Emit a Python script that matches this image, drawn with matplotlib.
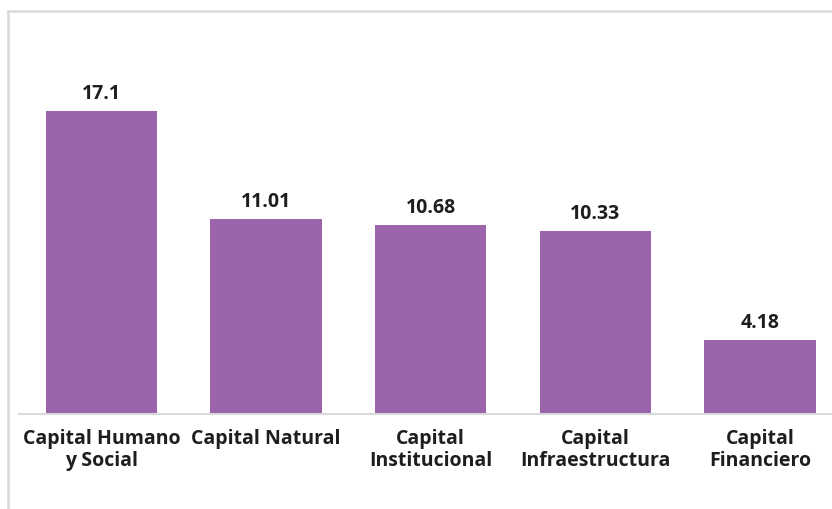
import matplotlib
matplotlib.use("Agg")
import matplotlib.pyplot as plt
from matplotlib.lines import Line2D

categories = ["Capital Humano\ny Social", "Capital Natural", "Capital\nInstitucional",
              "Capital\nInfraestructura", "Capital\nFinanciero"]
values = [17.1, 11.01, 10.68, 10.33, 4.18]
value_labels = ["17.1", "11.01", "10.68", "10.33", "4.18"]

BAR_COLOR = "#9b64ab"
TEXT_COLOR = "#1e1e1e"
FRAME_COLOR = "#d9d9d9"

plt.rcParams["font.family"] = ["Open Sans", "DejaVu Sans"]

fig = plt.figure(figsize=(8.32, 5.10), dpi=100)
W, H = 832, 510
# axes: left at x=19px, right at image edge, baseline at y=415px
ax = fig.add_axes([19 / W, (H - 415) / H, (W - 19) / W, (415 - 61) / H])

x = range(len(categories))
ax.bar(x, values, width=0.675, color=BAR_COLOR)
ax.set_xlim(-0.5, 4 + (832 - 760) / 164.6)
ax.set_ylim(0, 20)

for i, (v, lab) in enumerate(zip(values, value_labels)):
    ax.annotate(lab, (i, v), xytext=(0, 6), textcoords="offset points",
                ha="center", va="bottom", fontsize=14, fontweight="bold", color=TEXT_COLOR)

ax.set_xticks(list(x))
ax.set_xticklabels(categories, fontsize=14, fontweight="bold", color=TEXT_COLOR,
                   linespacing=1.15)
ax.tick_params(axis="x", length=0, pad=10)
ax.set_yticks([])
for side in ("top", "right", "left"):
    ax.spines[side].set_visible(False)
ax.spines["bottom"].set_color(FRAME_COLOR)
ax.spines["bottom"].set_linewidth(1.5)

# outer chart frame (cropped on the right and bottom)
fig.add_artist(Line2D([8 / W, 8 / W], [0, (H - 12) / H], color=FRAME_COLOR, lw=1.8,
                      transform=fig.transFigure))
fig.add_artist(Line2D([8 / W, 1], [(H - 12) / H, (H - 12) / H], color=FRAME_COLOR, lw=1.8,
                      transform=fig.transFigure))

fig.savefig("out.png", dpi=100, facecolor="white")
